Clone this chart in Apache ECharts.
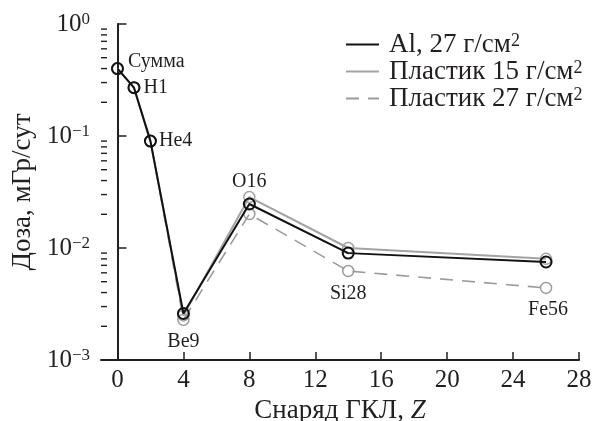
<!DOCTYPE html>
<html>
<head>
<meta charset="utf-8">
<script src="https://cdn.jsdelivr.net/npm/echarts@6/dist/echarts.min.js"></script>
<style>
  html, body { margin: 0; padding: 0; background: #fff; }
  #main { width: 593px; height: 421px; }
</style>
</head>
<body>
<div id="main"></div>
<script>
// projectile charge Z
var zValues = [0, 1, 2, 4, 8, 14, 26];
var pointNames = ['Сумма', 'H1', 'He4', 'Be9', 'O16', 'Si28', 'Fe56'];

// dose, mGy/day
var doseAl27 = [0.40, 0.27, 0.090, 0.0026, 0.0247, 0.0090, 0.0075];
var dosePlastic15 = [0.40, 0.27, 0.090, 0.0025, 0.0285, 0.0100, 0.0080];
var dosePlastic27 = [0.40, 0.27, 0.090, 0.00228, 0.0201, 0.00623, 0.0044];

var xTicks = [0, 4, 8, 12, 16, 20, 24, 28];
var yMinorTicks = [0.002, 0.003, 0.004, 0.005, 0.006, 0.007, 0.008, 0.009,
                   0.02, 0.03, 0.04, 0.05, 0.06, 0.07, 0.08, 0.09,
                   0.2, 0.3, 0.4, 0.5, 0.6, 0.7, 0.8, 0.9];

var legendNames = ['Al, 27 г/см2', 'Пластик 15 г/см2', 'Пластик 27 г/см2'];

var font = 'Liberation Serif';
var ink = '#231f20';

function pairs(ys) {
    return zValues.map(function (z, i) { return [z, ys[i]]; });
}

// labels: which series carries which point label, and where
function withLabels(ys, labelled) {
    return zValues.map(function (z, i) {
        var item = { value: [z, ys[i]], name: pointNames[i] };
        if (labelled[i]) {
            item.label = Object.assign({
                show: true,
                formatter: pointNames[i],
                fontFamily: font,
                fontSize: 20,
                color: ink
            }, labelled[i]);
        }
        return item;
    });
}

var mychart = echarts.init(document.getElementById('main'));

var option = {
    animation: false,
    backgroundColor: '#fff',
    textStyle: { fontFamily: font, color: ink },
    grid: { left: 101, right: 14, top: 24, bottom: 61, outerBoundsMode: 'none', containLabel: false },
    legend: {
        orient: 'vertical',
        left: 340,
        top: 26,
        itemWidth: 33,
        itemHeight: 14,
        itemGap: 0,
        data: legendNames,
        itemStyle: { opacity: 0 },
        formatter: function (name) {
            return name.replace(/2$/, '{s|2}');
        },
        textStyle: {
            fontFamily: font,
            fontSize: 27,
            color: ink,
            lineHeight: 25,
            padding: [0, 0, 0, 5],
            rich: {
                s: { fontFamily: font, fontSize: 18, lineHeight: 6, verticalAlign: 'top', color: ink }
            }
        }
    },
    xAxis: {
        type: 'value',
        min: -1,
        max: 28,
        name: 'Снаряд ГКЛ, {i|Z}',
        nameLocation: 'middle',
        nameGap: 31,
        nameTextStyle: {
            fontFamily: font, fontSize: 27, color: ink,
            rich: { i: { fontFamily: font, fontSize: 27, fontStyle: 'italic', color: ink } }
        },
        splitLine: { show: false },
        axisLine: { lineStyle: { color: ink, width: 2 } },
        axisTick: { inside: true, length: 8, customValues: xTicks, lineStyle: { color: ink, width: 1.5 } },
        axisLabel: { customValues: xTicks, margin: 8, fontFamily: font, fontSize: 25, color: ink }
    },
    yAxis: {
        type: 'log',
        logBase: 10,
        min: 0.001,
        max: 1,
        interval: 1,
        name: 'Доза, мГр/сут',
        nameLocation: 'middle',
        nameGap: 63,
        nameTextStyle: { fontFamily: font, fontSize: 27, color: ink },
        splitLine: { show: false },
        axisLine: { show: true, lineStyle: { color: ink, width: 2 } },
        axisTick: { inside: true, length: 9, lineStyle: { color: ink, width: 1.5 } },
        axisLabel: {
            margin: 11,
            formatter: function (v) {
                var e = Math.round(Math.log10(v));
                var s = e === 0 ? '0' : '−' + Math.abs(e);
                return '{b|10}{s|' + s + '}';
            },
            rich: {
                b: { fontFamily: font, fontSize: 25, lineHeight: 26, color: ink },
                s: { fontFamily: font, fontSize: 17, lineHeight: 12, verticalAlign: 'top', color: ink }
            }
        }
    },
    series: [
        {
            // minor ticks of the log axis
            type: 'custom',
            silent: true,
            z: 1,
            data: yMinorTicks.map(function (v) { return [-1, v]; }),
            renderItem: function (params, api) {
                var p = api.coord([api.value(0), api.value(1)]);
                return {
                    type: 'line',
                    shape: { x1: p[0], y1: p[1], x2: p[0] + 6, y2: p[1] },
                    style: { stroke: ink, lineWidth: 1.4 }
                };
            }
        },
        {
            name: legendNames[2],
            type: 'line',
            z: 2,
            data: withLabels(dosePlastic27, [null, null, null,
                { position: 'bottom', distance: 6 }, null,
                { position: 'bottom', distance: 6 },
                { position: 'bottom', distance: 6, offset: [2, 0] }]),
            symbol: 'circle',
            symbolSize: 11,
            color: '#9b9b9b',
            lineStyle: { color: '#9b9b9b', width: 1.6, type: [13, 9] },
            itemStyle: { color: 'rgba(255,255,255,0)', borderColor: '#9b9b9b', borderWidth: 1.5 }
        },
        {
            name: legendNames[1],
            type: 'line',
            z: 3,
            data: pairs(dosePlastic15),
            symbol: 'circle',
            symbolSize: 11,
            color: '#a3a3a3',
            lineStyle: { color: '#a3a3a3', width: 2 },
            itemStyle: { color: 'rgba(255,255,255,0)', borderColor: '#a3a3a3', borderWidth: 1.5 }
        },
        {
            name: legendNames[0],
            type: 'line',
            z: 4,
            data: withLabels(doseAl27, [
                { position: 'right', distance: 4, offset: [0, -7] },
                { position: 'right', distance: 3 },
                { position: 'right', distance: 2 },
                null,
                { position: 'top', distance: 6 },
                null, null]),
            symbol: 'circle',
            symbolSize: 11,
            color: '#111',
            lineStyle: { color: '#111', width: 2 },
            itemStyle: { color: 'rgba(255,255,255,0)', borderColor: '#111', borderWidth: 2 }
        }
    ]
};

mychart.setOption(option);
</script>
</body>
</html>
